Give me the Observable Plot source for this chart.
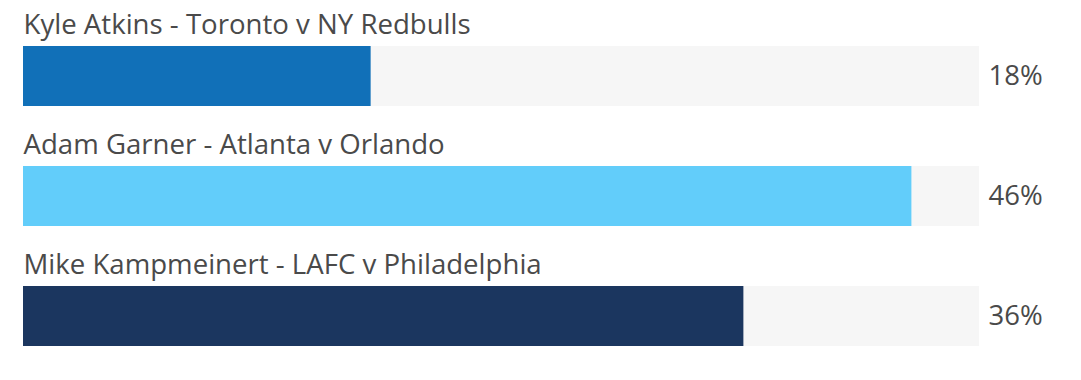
<!DOCTYPE html>
<html>
<head>
<meta charset="utf-8">
<script src="https://cdn.jsdelivr.net/npm/d3@7"></script>
<script src="https://cdn.jsdelivr.net/npm/@observablehq/plot@0.6"></script>
<style>
  html, body { margin: 0; padding: 0; background: #fff; }
  #chart svg { display: block; }
</style>
</head>
<body>
<div id="chart"></div>
<script>
// Data
const names = [
  "Kyle Atkins - Toronto v NY Redbulls",
  "Adam Garner - Atlanta v Orlando",
  "Mike Kampmeinert - LAFC v Philadelphia"
];
const barValues = [18, 46, 37.3];          // bar lengths as drawn
const valueLabels = ["18%", "46%", "36%"];  // printed labels
const trackMax = 49.5;                      // full track length
const colors = ["#1170b8", "#62cdfa", "#1b365f"];

const rows = names.map((n, i) => ({name: n, value: barValues[i], label: valueLabels[i], color: colors[i], max: trackMax}));

const font = "'Open Sans', sans-serif";
const chart = Plot.plot({
  width: 1081,
  height: 380,
  marginTop: 0,
  marginBottom: 20,
  marginLeft: 23,
  marginRight: 102,
  style: {fontFamily: font, background: "#fff"},
  x: {domain: [0, trackMax], axis: null},
  y: {domain: names, axis: null, paddingInner: 0, paddingOuter: 0},
  marks: [
    Plot.barX(rows, {x: "max", y: "name", fill: "#f6f6f6", insetTop: 46, insetBottom: 14}),
    Plot.barX(rows, {x: "value", y: "name", fill: d => d.color, insetTop: 46, insetBottom: 14}),
    Plot.text(rows, {x: 0, y: "name", text: "name", textAnchor: "start", dy: -35, fontSize: 27.6, fill: "#4a4a4a"}),
    Plot.text(rows, {x: trackMax, y: "name", text: "label", textAnchor: "start", dx: 9, dy: 16, fontSize: 27.5, fill: "#4a4a4a"})
  ]
});
document.getElementById("chart").appendChild(chart);
</script>
</body>
</html>
